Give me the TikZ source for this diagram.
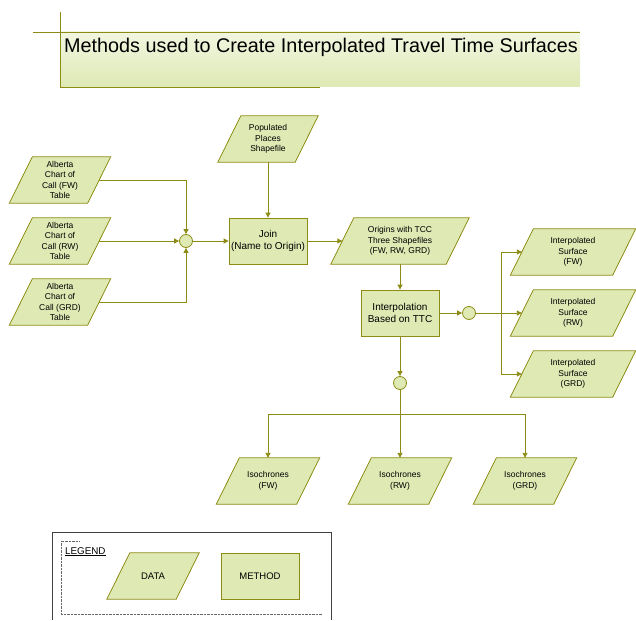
\documentclass[tikz,border=0pt]{standalone}
\usepackage{fontspec}
\setmainfont{Liberation Sans}
\usepackage{tikz}
\usetikzlibrary{arrows.meta, positioning, backgrounds}

\definecolor{olivel}{HTML}{8C8C14}
\definecolor{boxfill}{HTML}{DEE9B4}

\begin{document}
\begin{tikzpicture}[x=1pt, y=-1pt,
    datanode/.style={rectangle, minimum height=46pt, align=center, inner sep=1pt,
        font=\fontsize{8.5}{10.5}\selectfont,
        append after command={\pgfextra{\let\dnode\tikzlastnode
            \begin{pgfonlayer}{background}
            \filldraw[draw=olivel, fill=boxfill, line width=0.8pt]
                ([xshift=-11.5pt]\dnode.south west) -- ([xshift=-11.5pt]\dnode.south east)
                -- ([xshift=11.5pt]\dnode.north east) -- ([xshift=11.5pt]\dnode.north west) -- cycle;
            \end{pgfonlayer}}}},
    methodbox/.style={rectangle, draw=olivel, fill=boxfill, line width=0.8pt, minimum width=78pt,
        minimum height=46pt, align=center, inner sep=1pt, font=\fontsize{10}{12.5}\selectfont},
    joint/.style={circle, draw=olivel, fill=boxfill, line width=0.8pt, minimum size=13pt, inner sep=0pt},
    flow/.style={draw=olivel, line width=0.9pt, -{Triangle[width=5pt,length=5pt]}},
    link/.style={draw=olivel, line width=0.9pt}]

    \useasboundingbox (0,0) rectangle (636,620);

    % title
    \shade[top color=boxfill!40!white, bottom color=boxfill] (60,32) rectangle (580,87);
    \draw[olivel, line width=0.9pt] (60,12) -- (60,87) -- (320,87);
    \draw[olivel, line width=0.9pt] (33,32) -- (580,32);
    \node[anchor=base west, font=\fontsize{19.8}{22}\selectfont, inner sep=0pt] (title) at (64,53)
        {Methods used to Create Interpolated Travel Time Surfaces};

    % inputs
    \node[datanode, minimum width=77pt] (pop) at (268,139) {Populated\\Places\\Shapefile};
    \node[datanode, minimum width=78pt] (fw) at (60,180) {Alberta\\Chart of\\Call (FW)\\Table};
    \node[datanode, minimum width=78pt] (rw) at (60,241) {Alberta\\Chart of\\Call (RW)\\Table};
    \node[datanode, minimum width=78pt] (grd) at (60,302) {Alberta\\Chart of\\Call (GRD)\\Table};

    \node[joint] (j1) at (186,241) {};
    \node[methodbox] (join) at (268,241) {Join\\(Name to Origin)};
    \node[datanode, minimum width=115pt] (orig) at (400,241) {Origins with TCC\\Three Shapefiles\\(FW, RW, GRD)};
    \node[methodbox] (interp) at (400,313) {Interpolation\\Based on TTC};

    \node[joint] (j2) at (469,313) {};
    \coordinate (br) at (501,313);
    \node[datanode, minimum width=102pt] (sfw) at (573,252) {Interpolated\\Surface\\(FW)};
    \node[datanode, minimum width=102pt] (srw) at (573,313) {Interpolated\\Surface\\(RW)};
    \node[datanode, minimum width=102pt] (sgrd) at (573,374) {Interpolated\\Surface\\(GRD)};

    \node[joint] (j3) at (400,383) {};
    \coordinate (bb) at (400,414);
    \node[datanode, minimum width=80pt] (ifw) at (268,481) {Isochrones\\(FW)};
    \node[datanode, minimum width=80pt] (irw) at (400,481) {Isochrones\\(RW)};
    \node[datanode, minimum width=80pt] (igrd) at (525,481) {Isochrones\\(GRD)};

    \draw[flow] (fw.east) -| (j1.north);
    \draw[flow] (rw.east) -- (j1.west);
    \draw[flow] (grd.east) -| (j1.south);
    \draw[flow] (j1.east) -- (join.west);
    \draw[flow] (pop.south) -- (join.north);
    \draw[flow] (join.east) -- (orig.west);
    \draw[flow] (orig.south) -- (interp.north);
    \draw[flow] (interp.east) -- (j2.west);
    \draw[link] (j2.east) -- (br);
    \draw[flow] (br) |- (sfw.west);
    \draw[flow] (br) -- (srw.west);
    \draw[flow] (br) |- (sgrd.west);
    \draw[flow] (interp.south) -- (j3.north);
    \draw[link] (j3.south) -- (bb);
    \draw[flow] (bb) -| (ifw.north);
    \draw[flow] (bb) -- (irw.north);
    \draw[flow] (bb) -| (igrd.north);

    % legend
    \draw[black!75, line width=0.8pt] (52,620) -- (52,532) -- (331,532) -- (331,620);
    \draw[black!60, densely dotted] (79,541) -- (61,541) -- (61,614) -- (322,614);
    \node[anchor=base west, inner sep=0pt, font=\fontsize{9.8}{11}\selectfont] (leg) at (65,554) {\underline{LEGEND}};
    \node[datanode, minimum width=69pt, font=\fontsize{9.5}{11}\selectfont] (ldata) at (153,576) {DATA};
    \node[methodbox, font=\fontsize{9.5}{11}\selectfont] (lmeth) at (260,576) {METHOD};
\end{tikzpicture}
\end{document}
